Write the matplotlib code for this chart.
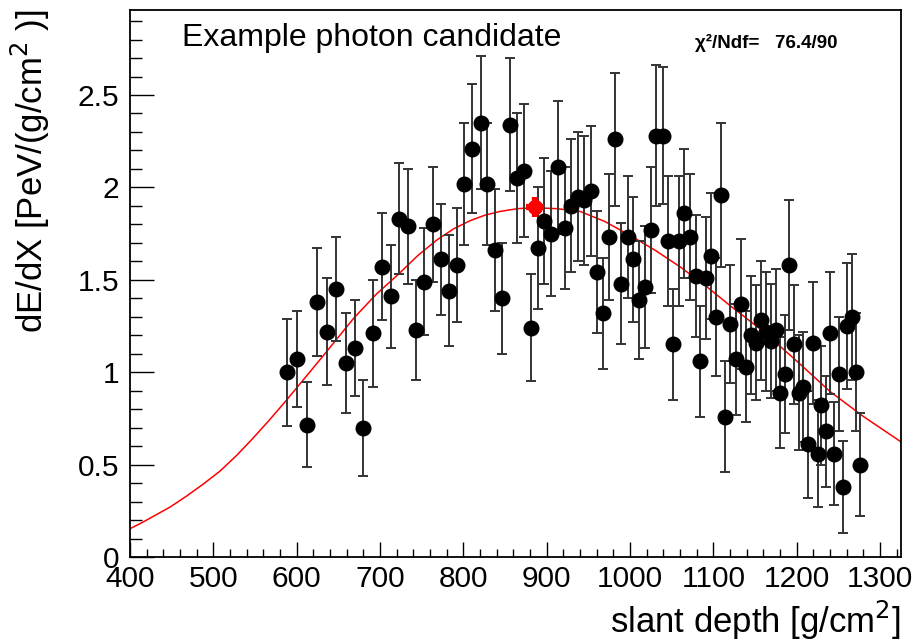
import matplotlib
matplotlib.use("Agg")
import matplotlib.pyplot as plt
from matplotlib.ticker import MultipleLocator, FuncFormatter

plt.rcParams['font.family'] = ['Liberation Sans', 'DejaVu Sans']

# measured profile points (slant depth, dE/dX, error)
depth = [588, 600, 612, 624, 636, 647, 659, 670, 680, 691,
         702.5, 713.5, 722.5, 734, 743, 753, 764, 773, 783, 792,
         801, 810, 821, 828, 838, 846, 856, 864, 873, 881,
         889, 897, 905, 913, 921.5, 929.5, 937.5, 944.5, 953.5, 960.5,
         967.5, 975, 982, 989, 997, 1004, 1011, 1018, 1025, 1031,
         1040, 1046, 1052, 1059, 1065, 1072, 1079, 1084, 1091, 1097,
         1103, 1109, 1114, 1120, 1127.5, 1133.5, 1139.5, 1145.5, 1151.5, 1157.5,
         1163.5, 1169.5, 1175.5, 1180, 1186, 1191, 1197, 1203, 1208, 1214,
         1219, 1225, 1229, 1235, 1240, 1245, 1251, 1256, 1260, 1266,
         1271, 1276]
dedx = [1.00, 1.07, 0.715, 1.38, 1.22, 1.45, 1.05, 1.13, 0.70, 1.21,
        1.57, 1.41, 1.83, 1.79, 1.23, 1.49, 1.80, 1.61, 1.44, 1.58,
        2.02, 2.21, 2.35, 2.02, 1.66, 1.40, 2.34, 2.05, 2.09, 1.24,
        1.67, 1.82, 1.75, 2.11, 1.78, 1.90, 1.95, 1.93, 1.98, 1.54,
        1.32, 1.73, 2.26, 1.48, 1.73, 1.61, 1.39, 1.46, 1.77, 2.28,
        2.28, 1.71, 1.15, 1.71, 1.86, 1.73, 1.52, 1.06, 1.51, 1.63,
        1.30, 1.96, 0.76, 1.26, 1.07, 1.37, 1.03, 1.20, 1.16, 1.28,
        1.22, 1.17, 1.23, 0.89, 0.99, 1.58, 1.15, 0.89, 0.92, 0.61,
        1.16, 0.56, 0.82, 0.68, 1.21, 0.56, 0.99, 0.38, 1.25, 1.30,
        1.00, 0.50]
err = [0.29, 0.26, 0.23, 0.29, 0.29, 0.28, 0.27, 0.26, 0.26, 0.29,
       0.29, 0.28, 0.30, 0.31, 0.27, 0.29, 0.31, 0.30, 0.30, 0.31,
       0.33, 0.35, 0.36, 0.33, 0.33, 0.30, 0.36, 0.35, 0.36, 0.29,
       0.33, 0.34, 0.34, 0.36, 0.33, 0.36, 0.35, 0.35, 0.35, 0.33,
       0.30, 0.34, 0.36, 0.33, 0.33, 0.34, 0.32, 0.33, 0.34, 0.38,
       0.37, 0.35, 0.30, 0.35, 0.35, 0.34, 0.33, 0.30, 0.33, 0.34,
       0.32, 0.39, 0.30, 0.32, 0.30, 0.35, 0.30, 0.32, 0.31, 0.32,
       0.32, 0.31, 0.33, 0.30, 0.32, 0.35, 0.32, 0.31, 0.30, 0.29,
       0.33, 0.29, 0.32, 0.30, 0.33, 0.28, 0.31, 0.25, 0.34, 0.34,
       0.32, 0.28]

# fitted profile
fit_x = [400, 414, 428, 448, 468, 488, 508, 528, 548, 567,
         588, 610, 632, 650, 668, 695, 722, 745, 768, 788,
         808, 826, 844, 865, 885, 912, 940, 970, 1000, 1030,
         1060, 1090, 1120, 1160, 1200, 1240, 1280, 1326]
fit_y = [0.153, 0.185, 0.22, 0.27, 0.33, 0.395, 0.465, 0.55, 0.645, 0.74,
         0.85, 0.97, 1.09, 1.19, 1.29, 1.42, 1.53, 1.63, 1.715, 1.775,
         1.82, 1.85, 1.87, 1.885, 1.89, 1.885, 1.87, 1.815, 1.74, 1.66,
         1.57, 1.47, 1.36, 1.22, 1.06, 0.895, 0.76, 0.62]

# Xmax marker
xmax_x, xmax_y = 886, 1.895
xmax_xerr, xmax_yerr = 11, 0.055

fig = plt.figure(figsize=(9.22, 6.43), dpi=100)
ax = fig.add_axes([130 / 922, 1 - 557 / 643, 771 / 922, 547 / 643])

ax.plot(fit_x, fit_y, color='#ff0000', lw=1.1, zorder=2)
ax.errorbar(depth, dedx, yerr=err, fmt='o', color='black', ms=10.5,
            ecolor='#333333', elinewidth=1.4, capsize=3.3, capthick=1.4, zorder=3)
ax.errorbar([xmax_x], [xmax_y], xerr=[xmax_xerr], yerr=[xmax_yerr], fmt='o',
            color='#ff0000', ms=10, elinewidth=4.5, capsize=0, zorder=4)

ax.set_xlim(400, 1325)
ax.set_ylim(0, 2.96)

ax.xaxis.set_major_locator(MultipleLocator(100))
ax.xaxis.set_minor_locator(MultipleLocator(20))
ax.yaxis.set_major_locator(MultipleLocator(0.5))
ax.yaxis.set_minor_locator(MultipleLocator(0.1))
ax.yaxis.set_major_formatter(FuncFormatter(lambda v, p: '%g' % v))

ax.tick_params(which='both', direction='in', top=False, right=False, labelsize=21.5)
ax.tick_params(axis='x', which='major', length=10.5, width=1, pad=6)
ax.tick_params(axis='x', which='minor', length=5.5, width=1)
ax.tick_params(axis='y', which='major', length=17, width=1, pad=8)
ax.tick_params(axis='y', which='minor', length=8.5, width=1)
for s in ax.spines.values():
    s.set_linewidth(1.3)

ax.set_xlabel('slant depth [g/cm$^{2}$]', fontsize=25, loc='right', labelpad=4)
ax.set_ylabel('dE/dX [PeV/(g/cm$^{2}$ )]', fontsize=25, loc='top', labelpad=18)

fig.text(182 / 922, 1 - 46 / 643, 'Example photon candidate', fontsize=23,
         ha='left', va='baseline')
fig.text(695 / 922, 1 - 48 / 643, 'χ²/Ndf=   76.4/90', fontsize=13.5,
         fontweight='bold', ha='left', va='baseline')

fig.savefig('out.png', dpi=100)
